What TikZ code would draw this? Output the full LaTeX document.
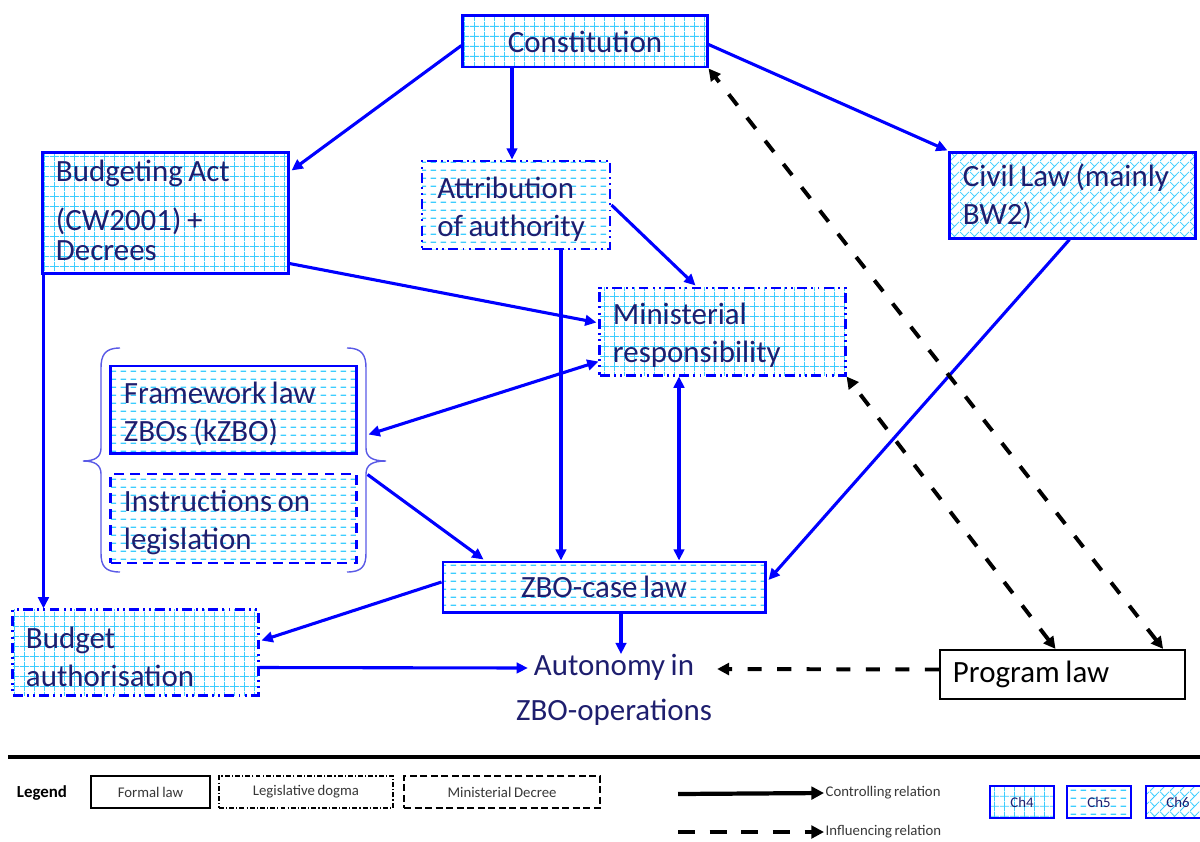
\documentclass[tikz,border=0pt]{standalone}
\usepackage{fontspec}
\setmainfont{Carlito}[WordSpace=0.8]
\usetikzlibrary{arrows.meta,patterns,calc}

\definecolor{lawblue}{RGB}{0,0,255}
\definecolor{hatch}{RGB}{60,205,255}
\definecolor{navytext}{RGB}{30,30,110}
\definecolor{bracec}{RGB}{90,90,230}
\definecolor{legendtext}{RGB}{55,55,55}

% Ch4: square grid
\pgfdeclarepatternformonly{chgrid}{\pgfqpoint{0pt}{0pt}}{\pgfqpoint{7.113pt}{7.113pt}}{\pgfqpoint{7.113pt}{7.113pt}}{%
  \pgfsetlinewidth{0.6pt}%
  \pgfpathmoveto{\pgfqpoint{0pt}{3.556pt}}\pgfpathlineto{\pgfqpoint{7.113pt}{3.556pt}}%
  \pgfpathmoveto{\pgfqpoint{3.556pt}{0pt}}\pgfpathlineto{\pgfqpoint{3.556pt}{7.113pt}}%
  \pgfusepath{stroke}}
% Ch5: horizontal dashes
\pgfdeclarepatternformonly{chdash}{\pgfqpoint{0pt}{0pt}}{\pgfqpoint{7.113pt}{5.5pt}}{\pgfqpoint{7.113pt}{5.5pt}}{%
  \pgfsetlinewidth{0.85pt}%
  \pgfpathmoveto{\pgfqpoint{0.5pt}{2.75pt}}\pgfpathlineto{\pgfqpoint{4.8pt}{2.75pt}}%
  \pgfusepath{stroke}}
% Ch6: diagonal brick
\pgfdeclarepatternformonly{chbrick}{\pgfqpoint{0pt}{0pt}}{\pgfqpoint{7.113pt}{7.113pt}}{\pgfqpoint{7.113pt}{7.113pt}}{%
  \pgfsetlinewidth{0.6pt}%
  \pgfpathmoveto{\pgfqpoint{0pt}{0pt}}\pgfpathlineto{\pgfqpoint{7.113pt}{7.113pt}}%
  \pgfpathmoveto{\pgfqpoint{0pt}{7.113pt}}\pgfpathlineto{\pgfqpoint{3.556pt}{3.556pt}}%
  \pgfusepath{stroke}}

\newcommand\mainsize{\fontsize{22pt}{27pt}\selectfont}
\newcommand\legsize{\fontsize{10.5pt}{12pt}\selectfont}

\begin{document}
\begin{tikzpicture}[x=0.025cm,y=-0.025cm,
  lawbox/.style={rectangle, draw=lawblue, line width=2.1pt, inner xsep=9.25pt,
    inner ysep=0pt, text=navytext, font=\mainsize, align=flush left},
  twoline/.style={text height=21pt},
  wide/.style={minimum width=174.3pt, text width=155.8pt},
  dogma/.style={dash pattern=on 7pt off 3pt on 1.4pt off 3pt on 1.4pt off 3pt},
  decree/.style={dash pattern=on 7pt off 4.5pt},
  ch4/.style={pattern=chgrid, pattern color=hatch},
  ch5/.style={pattern=chdash, pattern color=hatch},
  ch6/.style={pattern=chbrick, pattern color=hatch},
  ctrl/.style={draw=lawblue, line width=2.2pt, -{Triangle[length=8pt,width=7.5pt]}},
  ctrlboth/.style={draw=lawblue, line width=2.2pt,
    {Triangle[length=8pt,width=7.5pt]}-{Triangle[length=8pt,width=7.5pt]}},
  infl/.style={draw=black, line width=2.8pt, dash pattern=on 10pt off 11pt,
    -{Triangle[length=8.5pt,width=8.5pt]}},
  inflboth/.style={draw=black, line width=2.8pt, dash pattern=on 10pt off 11pt,
    {Triangle[length=8.5pt,width=8.5pt]}-{Triangle[length=8.5pt,width=8.5pt]}},
  brace/.style={draw=bracec, line width=1pt},
  legbox/.style={rectangle, draw=black, line width=0.8pt, minimum height=22.8pt,
    text=legendtext, font=\legsize},
  chbox/.style={rectangle, draw=lawblue, line width=1.8pt, minimum width=45.5pt,
    minimum height=22.8pt, text=navytext, font=\legsize},
  leglabel/.style={anchor=west, inner sep=1pt, text=legendtext, font=\legsize}
]
\useasboundingbox (0,0) rectangle (1200,841);

% ---- law boxes ----
\node[lawbox, ch4, align=flush center, minimum width=173.6pt, minimum height=36.3pt] (const) at (585,41.5) {Constitution};
\node[lawbox, ch4, wide, text height=11.5pt, minimum height=85.4pt] (budact) at (165.5,213) {Budgeting Act\\[8pt](CW2001) +\\[-6pt]Decrees};
\node[lawbox, ch5, dogma, twoline, minimum width=133.7pt, text width=112pt, inner xsep=10.85pt, minimum height=62.6pt] (attr) at (516,205) {Attribution\\of authority};
\node[lawbox, ch6, text height=17pt, wide, minimum height=60.5pt] (civil) at (1072.5,195.5) {Civil Law (mainly\\BW2)};
\node[lawbox, ch4, dogma, twoline, wide, minimum height=61.9pt] (minis) at (722.5,331.5) {Ministerial\\responsibility};
\node[lawbox, ch5, twoline, wide, minimum height=61.9pt] (frame) at (233.5,409.5) {Framework law\\ZBOs (kZBO)};
\node[lawbox, ch5, decree, twoline, wide, minimum height=63.3pt] (instr) at (233.5,518.5) {Instructions on\\legislation};
\node[lawbox, ch5, align=flush center, minimum width=229pt, minimum height=35.6pt] (zbocase) at (604,587) {ZBO-case law};
\node[lawbox, ch4, dogma, twoline, wide, minimum height=60.5pt] (budauth) at (135.5,652.5) {Budget\\authorisation};
\node[font=\fontsize{22pt}{32pt}\selectfont, text=navytext, align=flush center, inner sep=0pt] (auto) at (614,690) {Autonomy in\\ZBO-operations};
\node[lawbox, wide, draw=black, line width=1.5pt, text=black, minimum height=34.9pt] (prog) at (1062.5,674.5) {Program law};

% ---- braces around the two ZBO rule boxes ----
\draw[brace] (120,348) .. controls (105,348) and (101,355) .. (101,368) -- (101,448)
  .. controls (101,457) and (95,461) .. (83,461)
  .. controls (95,461) and (101,465) .. (101,474) -- (101,553)
  .. controls (101,566) and (105,572) .. (120,572);
\draw[brace] (347,348) .. controls (362,348) and (366,355) .. (366,368) -- (366,448)
  .. controls (366,457) and (372,461) .. (386,461)
  .. controls (372,461) and (366,465) .. (366,474) -- (366,553)
  .. controls (366,566) and (362,572) .. (347,572);

% ---- controlling relations ----
\draw[ctrl] ($(const.west)+(0,4)$) -- ($(budact.north east)+(2,19)$);
\draw[ctrl] ({$(attr.north)+(-4,0)$} |- const.south) -- ($(attr.north)+(-4,0)$);
\draw[ctrl] ($(const.east)+(0,3)$) -- ($(civil.north west)+(-1,-1)$);
\draw[ctrl] ($(budact.south east)+(0,-11)$) -- ($(minis.west)+(-2,-9)$);
\draw[ctrl] (attr.east) -- ($(minis.north)+(-27,-1)$);
\draw[ctrl] ($(attr.south)+(45,0)$) -- ({$(attr.south)+(45,0)$} |- zbocase.north);
\draw[ctrlboth] ($(minis.south)+(-43.5,0)$) -- ({$(minis.south)+(-43.5,0)$} |- zbocase.north);
\draw[ctrlboth] ($(minis.south west)+(0,-15)$) -- ($(frame.east)+(11,25)$);
\draw[ctrl] ($(instr.north east)+(10,2)$) -- ($(zbocase.north west)+(42,-1)$);
\draw[ctrl] ($(civil.south)+(-3,0)$) -- ($(zbocase.east)+(2,-7)$);
\draw[ctrl] ($(budact.south west)+(2,0)$) -- ({$(budact.south west)+(2,0)$} |- budauth.north);
\draw[ctrl] ($(zbocase.west)+(0,-5)$) -- ($(budauth.east)+(2,-12)$);
\draw[ctrl] ($(zbocase.south)+(17,0)$) -- ({$(zbocase.south)+(17,0)$} |- auto.north);
\draw[ctrl] ($(budauth.east)+(0,15)$) -- ($(auto.west)+(12,-22)$);

% ---- influencing relations ----
\draw[inflboth] ($(prog.north east)+(-23,0)$) -- (const.south east);
\draw[inflboth] ($(prog.north)+(-7,0)$) -- (minis.south east);
\draw[infl] ($(prog.west)+(0,-5)$) -- ($(auto.east)+(5,-21)$);

% ---- legend ----
\draw[line width=3.2pt] (8,757) -- (1200,757);
\node[font=\fontsize{12pt}{13pt}\selectfont\bfseries, text=black, inner sep=0pt] (leg) at (42,793) {Legend};
\node[legbox, minimum width=84.6pt] (lformal) at (150.5,792) {Formal law};
\node[legbox, minimum width=123.8pt, dash pattern=on 3.5pt off 1.5pt on 0.8pt off 1.5pt] (ldogma) at (306,792) {Legislative dogma};
\node[legbox, minimum width=139.4pt, dash pattern=on 5pt off 2.5pt] (ldecree) at (502,792) {Ministerial Decree};

\coordinate (cstart) at (678,794);
\coordinate (istart) at (678,832);
\node[leglabel] (lctrl) at (824,793) {Controlling relation};
\node[leglabel] (linfl) at (824,832) {Influencing relation};
\draw[line width=3pt, -{Triangle[length=9pt,width=9pt]}] (cstart) -- (lctrl.west);
\draw[line width=3pt, dash pattern=on 12pt off 10.5pt, -{Triangle[length=9pt,width=9pt]}] (istart) -- (linfl.west);

\node[chbox, ch4] (lch4) at (1022,802) {Ch4};
\node[chbox, ch5] (lch5) at (1099,802) {Ch5};
\node[chbox, ch6] (lch6) at (1178,802) {Ch6};
\end{tikzpicture}
\end{document}
